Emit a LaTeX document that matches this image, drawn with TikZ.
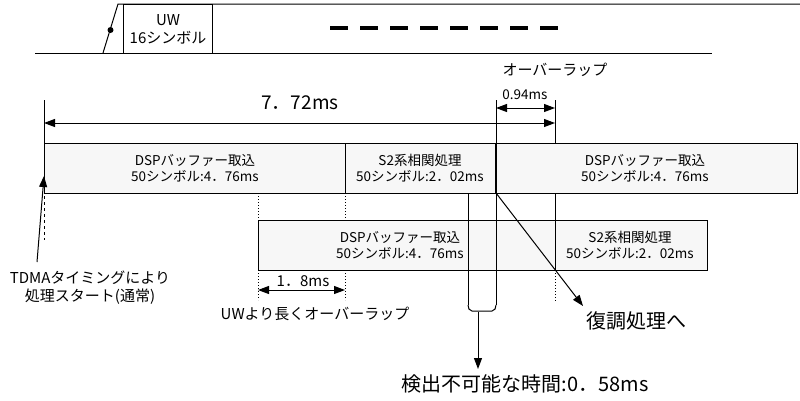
\documentclass[tikz,border=0pt]{standalone}
\usepackage{fontspec}
\setmainfont{Noto Sans CJK JP}
\usetikzlibrary{arrows.meta}
\begin{document}
\begin{tikzpicture}[x=1pt,y=-1pt,line width=1pt,
  lbl/.style={font=\fontsize{13.5}{16}\selectfont,align=center,inner sep=0},
  mid/.style={font=\fontsize{15}{18}\selectfont,align=center,inner sep=0},
  big/.style={font=\fontsize{20}{22}\selectfont,inner sep=0},
  arr/.style={-{Triangle[length=11pt,width=8pt]}},
  darr/.style={{Triangle[length=11pt,width=8pt]}-{Triangle[length=11pt,width=8pt]}}]
\useasboundingbox (0,0) rectangle (800,400);
% top frame
\coordinate (tl) at (35,53); \coordinate (tr) at (712,53);
\draw (tl) -- (tr);
\coordinate (s1) at (103,53); \coordinate (s2) at (118,4); \coordinate (te) at (800,4);
\draw (s1) -- (s2) -- (te);
\fill (110.5,30) circle (3pt);
\node[draw,minimum width=89pt,minimum height=49pt,anchor=north west,mid] (uw) at (123,4) {UW\\16シンボル};
\coordinate (d1) at (330,28); \coordinate (d2) at (562,28);
\draw[line width=4pt,dash pattern=on 18pt off 12pt] (d1) -- (d2);
\node[mid] (ov) at (555,70) {オーバーラップ};
% verticals
\coordinate (v44t) at (44,100); \coordinate (v44b) at (44,190); \coordinate (v44e) at (44,240);
\draw (v44t) -- (v44b); \draw[dashed] (v44b) -- (v44e);
\coordinate (v496t) at (496,100); \coordinate (v496b) at (496,305);
\draw (v496t) -- (v496b);
\coordinate (v468t) at (468,143); \coordinate (v468b) at (468,305);
\draw (v468t) -- (v468b);
\draw (v468b) to[out=-90,in=180] (472,311) -- (492,311) to[out=0,in=-90] (v496b);
\coordinate (v555t) at (555,100); \coordinate (v555b) at (555,270); \coordinate (v555e) at (555,302);
\draw (v555t) -- (v555b); \draw[dotted] (v555b) -- (v555e);
% arrows
\node[font=\fontsize{19}{22}\selectfont] (t772) at (300,103) {7．72ms};
\coordinate (a1) at (44,123); \coordinate (a2) at (555,123);
\draw[darr] (a1) -- (a2);
\node[lbl] (t094) at (525,95) {0.94ms};
\coordinate (b1) at (496,108); \coordinate (b2) at (555,108);
\draw[darr] (b1) -- (b2);
% row1
\draw[fill=gray!6] (44,143) rectangle (797,193);
\draw (345,143) -- (345,193);
\draw[line width=1.8pt] (496,143) -- (496,193);
\node[lbl] (r1a) at (195,168) {DSPバッファー取込\\50シンボル:4．76ms};
\node[lbl] (r1b) at (420,168) {S2系相関処理\\50シンボル:2．02ms};
\node[lbl] (r1c) at (645,168) {DSPバッファー取込\\50シンボル:4．76ms};
% row2
\draw[fill=gray!6] (258,220) rectangle (707,270);
\draw (555,220) -- (555,270);
\draw (468,220) -- (468,270); \draw (496,220) -- (496,270);
\node[lbl] (r2a) at (400,245) {DSPバッファー取込\\50シンボル:4．76ms};
\node[lbl] (r2b) at (630,245) {S2系相関処理\\50シンボル:2．02ms};
\draw[dotted] (258,193) -- (258,220); \draw[dotted] (258,270) -- (258,300);
\draw[dotted] (345,193) -- (345,220); \draw[dotted] (345,270) -- (345,300);
\node[mid] (t18) at (303,281) {1．8ms};
\coordinate (c1) at (258,290); \coordinate (c2) at (345,290);
\draw[darr] (c1) -- (c2);
\node[mid] (uwl) at (315,314) {UWより長くオーバーラップ};
% TDMA
\node[mid] (tdma) at (90,288) {TDMAタイミングにより\\処理スタート(通常)};
\coordinate (ta) at (37,262); \coordinate (tb) at (44,176);
\draw[arr] (ta) -- (tb);
% demod
\coordinate (dm1) at (496,193);
\node[big] (dm) at (636,321) {復調処理へ};
\coordinate (dm2) at (583,306);
\draw[arr] (dm1) -- (dm2);
\coordinate (k1) at (478,312);
\node[big] (k) at (525,384) {検出不可能な時間:0．58ms};
\coordinate (k2) at (478,369);
\draw[arr] (k1) -- (k2);
\end{tikzpicture}
\end{document}
